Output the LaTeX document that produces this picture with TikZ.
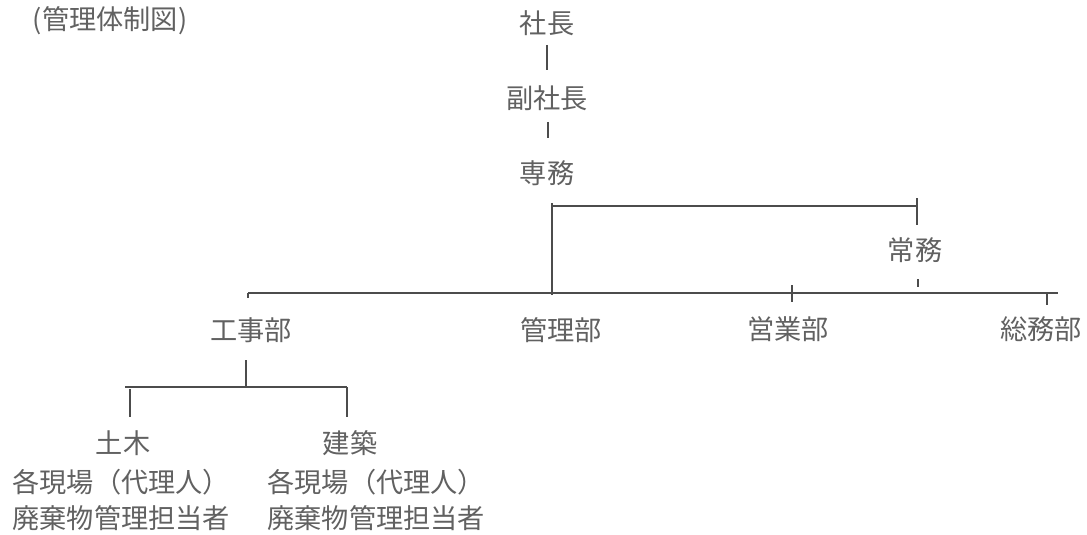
\documentclass[tikz,border=0pt]{standalone}
\usepackage{fontspec}
\setmainfont{Noto Sans CJK JP}
\begin{document}
\begin{tikzpicture}[x=0.5pt,y=-0.5pt,
    every node/.style={inner sep=0pt,text=black!62,font=\fontsize{13.6}{16}\selectfont},
    lines/.style={draw=black!70,line width=0.7pt}]
            \useasboundingbox (0,0) rectangle (1087,535);

            \node (title) at (110,21) {(管理体制図)};
            \node (shacho) at (547,23) {社長};
            \node (fuku) at (547,98) {副社長};
            \node (senmu) at (547,173) {専務};
            \node (jomu) at (915,250) {常務};
            \node (koji) at (251,330) {工事部};
            \node (kanri) at (561,330) {管理部};
            \node (eigyo) at (788,329) {営業部};
            \node (somu) at (1041,329) {総務部};
            \node (doboku) at (123,443) {土木};
            \node (kenchiku) at (350,443) {建築};
            \node[anchor=west] (doboku1) at (12,482) {各現場（代理人）};
            \node[anchor=west] (doboku2) at (12,518) {廃棄物管理担当者};
            \node[anchor=west] (kenchiku1) at (267,482) {各現場（代理人）};
            \node[anchor=west] (kenchiku2) at (267,518) {廃棄物管理担当者};

            \coordinate (s1) at (547,45);
            \coordinate (s2) at (547,70);
            \coordinate (f1) at (548,122);
            \coordinate (f2) at (548,138);
            \coordinate (m1) at (552,203);
            \coordinate (m2) at (552,295);
            \coordinate (m3) at (917,206);
            \coordinate (j1) at (917,198);
            \coordinate (j2) at (917,225);
            \coordinate (j3) at (918,279);
            \coordinate (j4) at (918,287);
            \coordinate (b1) at (248,293);
            \coordinate (b2) at (1058,293);
            \coordinate (k0) at (248,298);
            \coordinate (e1) at (792,285);
            \coordinate (e2) at (792,302);
            \coordinate (g1) at (1047,293);
            \coordinate (g2) at (1047,305);
            \coordinate (k1) at (246,360);
            \coordinate (k2) at (246,387);
            \coordinate (c1) at (125,387);
            \coordinate (c2) at (347,387);
            \coordinate (d1) at (130,389);
            \coordinate (d2) at (130,417);
            \coordinate (t2) at (347,417);

            \path [lines] (s1) edge (s2);
            \path [lines] (f1) edge (f2);
            \path [lines,line width=1pt] (m1) edge (m2);
            \path [lines] (m1 |- m3) edge (m3);
            \path [lines] (j1) edge (j2);
            \path [lines] (j3) edge (j4);
            \path [lines] (b1) edge (b2);
            \path [lines] (b1) edge (k0);
            \path [lines] (e1) edge (e2);
            \path [lines] (g1) edge (g2);
            \path [lines] (k1) edge (k2);
            \path [lines] (c1) edge (c2);
            \path [lines] (d1) edge (d2);
            \path [lines] (c2) edge (t2);
        \end{tikzpicture}
\end{document}
